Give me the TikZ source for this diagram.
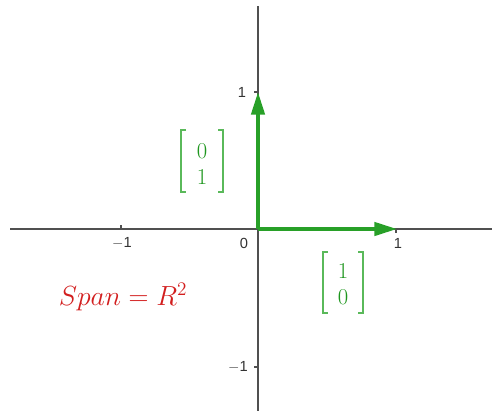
\documentclass[tikz,border=0pt]{standalone}
\usepackage{fontspec}
\setsansfont{Liberation Sans}
\usetikzlibrary{arrows.meta}
\definecolor{axisgray}{RGB}{80,80,80}
\definecolor{vecgreen}{RGB}{40,160,40}
\definecolor{txtgreen}{RGB}{30,150,30}
\definecolor{brgreen}{RGB}{90,185,90}
\definecolor{spanred}{RGB}{210,30,30}
\begin{document}
\begin{tikzpicture}[x=0.75pt,y=-0.75pt,
  axis/.style={draw=axisgray,line width=1.4pt},
  tick/.style={draw=axisgray,line width=0.8pt},
  ticklabel/.style={font=\sffamily\fontsize{11}{13}\selectfont,text=black!80,inner sep=0pt},
  vec/.style={draw=vecgreen,line width=2.6pt,-{Triangle[length=17pt,width=10pt]}},
  entry/.style={text=txtgreen,font=\fontsize{17}{19}\selectfont,inner sep=0pt},
  bracket/.style={draw=brgreen,line width=0.9pt}]
\useasboundingbox (0,0) rectangle (492,411);
% axes
\coordinate (xl) at (10,229);
\coordinate (xr) at (492,229);
\coordinate (yt) at (258,6);
\coordinate (yb) at (258,411);
\coordinate (O) at (258,229);
\draw[axis] (xl) -- (xr);
\draw[axis] (yt) -- (yb);
% ticks
\draw[tick] (121,229) -- (121,225);
\draw[tick] (396,229) -- (396,233);
\draw[tick] (258,92) -- (254,92);
\draw[tick] (258,367) -- (254,367);
\node[ticklabel] (lxm) at (122,243) {$-$1};
\node[ticklabel] (lx0) at (244,243) {0};
\node[ticklabel] (lx1) at (398,243) {1};
\node[ticklabel] (ly1) at (242,92) {1};
\node[ticklabel] (lym) at (238,367) {$-$1};
% vectors
\coordinate (e1) at (397,229);
\coordinate (e2) at (258,92);
\draw[vec] (O) -- (e1);
\draw[vec] (O) -- (e2);
% matrix [0;1]
\node[entry] (a0) at (202,151) {0};
\node[entry] (a1) at (202,177) {1};
\draw[bracket] (186,130) -- (181,130) -- (181,192) -- (186,192);
\draw[bracket] (218,130) -- (223,130) -- (223,192) -- (218,192);
% matrix [1;0]
\node[entry] (b1) at (343,271) {1};
\node[entry] (b0) at (343,297) {0};
\draw[bracket] (328,252) -- (323,252) -- (323,313) -- (328,313);
\draw[bracket] (358,252) -- (363,252) -- (363,313) -- (358,313);
% span label
\node[text=spanred,font=\fontsize{21}{24}\selectfont,inner sep=0pt] (span) at (123,297) {$Span = R^2$};
\end{tikzpicture}
\end{document}
